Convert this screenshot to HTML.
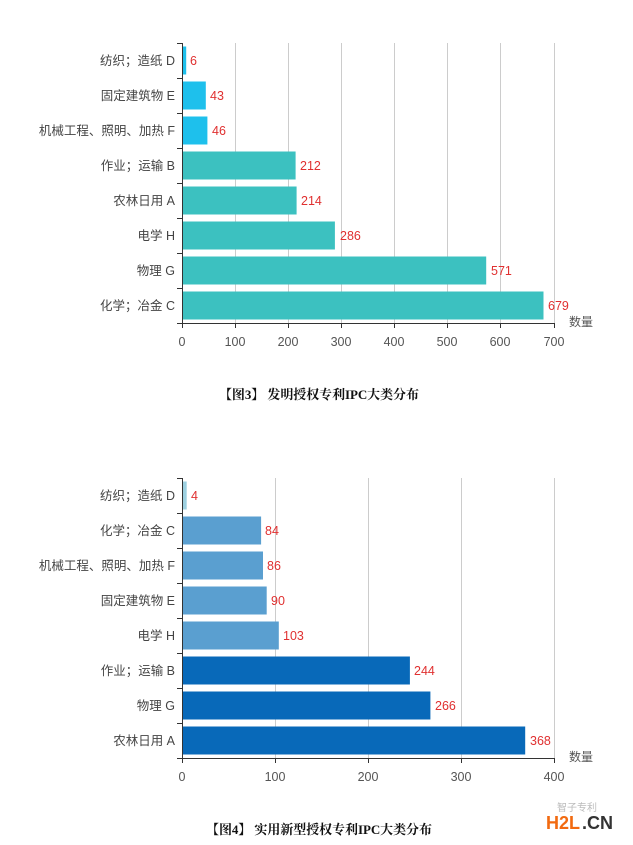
<!DOCTYPE html>
<html><head><meta charset="utf-8"><style>
body{margin:0;background:#fff;}
svg{display:block;font-family:"Liberation Sans","Noto Sans CJK SC",sans-serif;}
.l{font-size:12.5px;fill:#444;text-anchor:end}
.v{font-size:12.5px;fill:#e03030}
.t{font-size:12.5px;fill:#555;text-anchor:middle}
.c{font-family:"Liberation Serif","Noto Serif CJK SC",serif;font-size:13px;font-weight:bold;fill:#111}
</style></head><body>
<svg width="633" height="845" viewBox="0 0 633 845">
<g stroke="#ccc" stroke-width="1">
<line x1="235.5" y1="43" x2="235.5" y2="323"/><line x1="288.5" y1="43" x2="288.5" y2="323"/><line x1="341.5" y1="43" x2="341.5" y2="323"/><line x1="394.5" y1="43" x2="394.5" y2="323"/><line x1="447.5" y1="43" x2="447.5" y2="323"/><line x1="500.5" y1="43" x2="500.5" y2="323"/><line x1="554.5" y1="43" x2="554.5" y2="323"/>
</g>
<rect x="183" y="46.5" width="3.2" height="28" fill="#1ec0ec"/>
<rect x="183" y="81.5" width="22.8" height="28" fill="#1ec0ec"/>
<rect x="183" y="116.5" width="24.4" height="28" fill="#1ec0ec"/>
<rect x="183" y="151.5" width="112.6" height="28" fill="#3cc1c0"/>
<rect x="183" y="186.5" width="113.6" height="28" fill="#3cc1c0"/>
<rect x="183" y="221.5" width="151.9" height="28" fill="#3cc1c0"/>
<rect x="183" y="256.5" width="303.2" height="28" fill="#3cc1c0"/>
<rect x="183" y="291.5" width="360.5" height="28" fill="#3cc1c0"/>
<g stroke="#333" stroke-width="1">
<line x1="182.5" y1="43" x2="182.5" y2="323"/><line x1="182" y1="323.5" x2="555" y2="323.5"/>
<line x1="177" y1="43.5" x2="182" y2="43.5"/><line x1="177" y1="78.5" x2="182" y2="78.5"/><line x1="177" y1="113.5" x2="182" y2="113.5"/><line x1="177" y1="148.5" x2="182" y2="148.5"/><line x1="177" y1="183.5" x2="182" y2="183.5"/><line x1="177" y1="218.5" x2="182" y2="218.5"/><line x1="177" y1="253.5" x2="182" y2="253.5"/><line x1="177" y1="288.5" x2="182" y2="288.5"/><line x1="177" y1="323.5" x2="182" y2="323.5"/>
<line x1="182.5" y1="323" x2="182.5" y2="328"/><line x1="235.5" y1="323" x2="235.5" y2="328"/><line x1="288.5" y1="323" x2="288.5" y2="328"/><line x1="341.5" y1="323" x2="341.5" y2="328"/><line x1="394.5" y1="323" x2="394.5" y2="328"/><line x1="447.5" y1="323" x2="447.5" y2="328"/><line x1="500.5" y1="323" x2="500.5" y2="328"/><line x1="554.5" y1="323" x2="554.5" y2="328"/>
</g>
<text class="l" x="175" y="65">纺织；造纸 D</text>
<text class="l" x="175" y="100">固定建筑物 E</text>
<text class="l" x="175" y="135">机械工程、照明、加热 F</text>
<text class="l" x="175" y="170">作业；运输 B</text>
<text class="l" x="175" y="205">农林日用 A</text>
<text class="l" x="175" y="240">电学 H</text>
<text class="l" x="175" y="275">物理 G</text>
<text class="l" x="175" y="310">化学；冶金 C</text>
<text class="v" x="190" y="65">6</text>
<text class="v" x="210" y="100">43</text>
<text class="v" x="212" y="135">46</text>
<text class="v" x="300" y="170">212</text>
<text class="v" x="301" y="205">214</text>
<text class="v" x="340" y="240">286</text>
<text class="v" x="491" y="275">571</text>
<text class="v" x="548" y="310">679</text>
<text class="t" x="581" y="326" style="font-size:12px">数量</text>
<text class="t" x="182" y="346">0</text><text class="t" x="235" y="346">100</text><text class="t" x="288" y="346">200</text><text class="t" x="341" y="346">300</text><text class="t" x="394" y="346">400</text><text class="t" x="447" y="346">500</text><text class="t" x="500" y="346">600</text><text class="t" x="554" y="346">700</text>
<text class="c" x="219" y="399" textLength="200">【图3】 发明授权专利IPC大类分布</text>

<g stroke="#ccc" stroke-width="1">
<line x1="275.5" y1="478" x2="275.5" y2="758"/><line x1="368.5" y1="478" x2="368.5" y2="758"/><line x1="461.5" y1="478" x2="461.5" y2="758"/><line x1="554.5" y1="478" x2="554.5" y2="758"/>
</g>
<rect x="183" y="481.5" width="3.7" height="28" fill="#9dd0e0"/>
<rect x="183" y="516.5" width="78.1" height="28" fill="#5a9fd0"/>
<rect x="183" y="551.5" width="80" height="28" fill="#5a9fd0"/>
<rect x="183" y="586.5" width="83.7" height="28" fill="#5a9fd0"/>
<rect x="183" y="621.5" width="95.8" height="28" fill="#5a9fd0"/>
<rect x="183" y="656.5" width="226.9" height="28" fill="#0869b9"/>
<rect x="183" y="691.5" width="247.4" height="28" fill="#0869b9"/>
<rect x="183" y="726.5" width="342.2" height="28" fill="#0869b9"/>
<g stroke="#333" stroke-width="1">
<line x1="182.5" y1="478" x2="182.5" y2="758"/><line x1="182" y1="758.5" x2="555" y2="758.5"/>
<line x1="177" y1="478.5" x2="182" y2="478.5"/><line x1="177" y1="513.5" x2="182" y2="513.5"/><line x1="177" y1="548.5" x2="182" y2="548.5"/><line x1="177" y1="583.5" x2="182" y2="583.5"/><line x1="177" y1="618.5" x2="182" y2="618.5"/><line x1="177" y1="653.5" x2="182" y2="653.5"/><line x1="177" y1="688.5" x2="182" y2="688.5"/><line x1="177" y1="723.5" x2="182" y2="723.5"/><line x1="177" y1="758.5" x2="182" y2="758.5"/>
<line x1="182.5" y1="758" x2="182.5" y2="763"/><line x1="275.5" y1="758" x2="275.5" y2="763"/><line x1="368.5" y1="758" x2="368.5" y2="763"/><line x1="461.5" y1="758" x2="461.5" y2="763"/><line x1="554.5" y1="758" x2="554.5" y2="763"/>
</g>
<text class="l" x="175" y="500">纺织；造纸 D</text>
<text class="l" x="175" y="535">化学；冶金 C</text>
<text class="l" x="175" y="570">机械工程、照明、加热 F</text>
<text class="l" x="175" y="605">固定建筑物 E</text>
<text class="l" x="175" y="640">电学 H</text>
<text class="l" x="175" y="675">作业；运输 B</text>
<text class="l" x="175" y="710">物理 G</text>
<text class="l" x="175" y="745">农林日用 A</text>
<text class="v" x="191" y="500">4</text>
<text class="v" x="265" y="535">84</text>
<text class="v" x="267" y="570">86</text>
<text class="v" x="271" y="605">90</text>
<text class="v" x="283" y="640">103</text>
<text class="v" x="414" y="675">244</text>
<text class="v" x="435" y="710">266</text>
<text class="v" x="530" y="745">368</text>
<text class="t" x="581" y="761" style="font-size:12px">数量</text>
<text class="t" x="182" y="781">0</text><text class="t" x="275" y="781">100</text><text class="t" x="368" y="781">200</text><text class="t" x="461" y="781">300</text><text class="t" x="554" y="781">400</text>
<text class="c" x="206" y="834" textLength="226">【图4】 实用新型授权专利IPC大类分布</text>
<text x="557" y="811" style="font-size:10px;fill:#bbb">智子专利</text>
<text x="546" y="829" style="font-size:18px;font-weight:bold;fill:#f26a10">H2L</text><text x="582" y="829" style="font-size:18px;font-weight:bold;fill:#333">.CN</text>
</svg>
</body></html>
